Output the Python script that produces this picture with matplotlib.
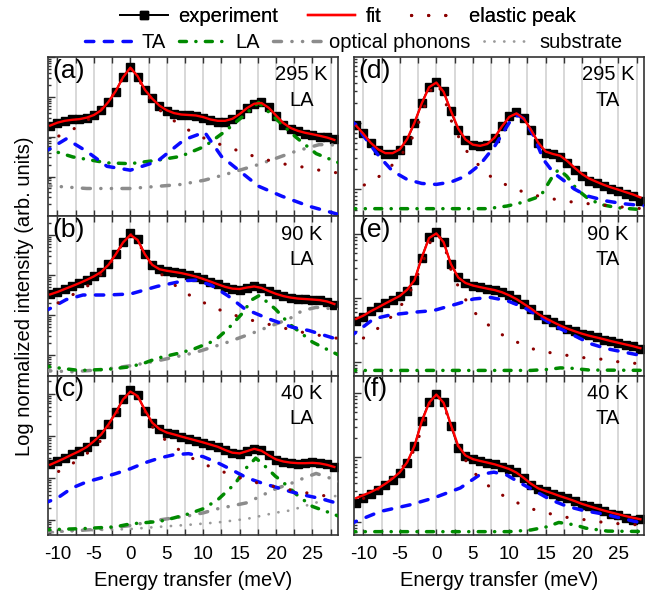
import numpy as np
import matplotlib
matplotlib.use("Agg")
import matplotlib.pyplot as plt
from matplotlib.lines import Line2D
from matplotlib.ticker import MultipleLocator, NullFormatter, LogLocator

plt.rcParams["font.family"] = ["Liberation Sans", "DejaVu Sans"]
plt.rcParams["axes.unicode_minus"] = False

# energy grid of the measured spectra (meV)
energy = np.arange(-11, 29)

# ---- (a) 295 K, LA ----
a_exp = [0.19, 0.22, 0.25, 0.27, 0.28, 0.30, 0.35, 0.47,
         0.76, 1.36, 3.2, 5.6, 3.2, 1.5, 0.93, 0.6,
         0.45, 0.38, 0.36, 0.34, 0.33, 0.3, 0.26, 0.24,
         0.24, 0.27, 0.37, 0.52, 0.68, 0.74, 0.55, 0.33,
         0.2, 0.16, 0.14, 0.12, 0.11, 0.1, 0.1, 0.085]
a_fit = [0.19, 0.225, 0.25, 0.265, 0.275, 0.3, 0.35, 0.46,
         0.75, 1.4, 3.1, 5.4, 3.3, 1.5, 0.9, 0.6,
         0.46, 0.39, 0.36, 0.35, 0.34, 0.31, 0.27, 0.25,
         0.25, 0.28, 0.37, 0.52, 0.67, 0.7, 0.53, 0.34,
         0.22, 0.165, 0.14, 0.125, 0.115, 0.105, 0.095, 0.083]
a_el = [(-12, 0.072), (-11, 0.084), (-8.8, 0.124), (-6.7, 0.2), (-4.5, 0.4), (-3, 0.75), (-2, 1.4),
        (-1, 3.0), (0, 5.3), (1, 3.1), (2, 1.4), (3, 0.75), (4, 0.47), (5.6, 0.28), (7.7, 0.156),
        (10, 0.094), (12.4, 0.063), (14.7, 0.045), (17, 0.032), (19.5, 0.024), (22, 0.019),
        (24.5, 0.0165), (27, 0.013), (29.5, 0.012)]
a_ta = [(-12, 0.039), (-8.8, 0.088), (-6, 0.043), (-3.2, 0.018), (0, 0.0144), (3.7, 0.024),
        (7.4, 0.084), (10.2, 0.13), (12.5, 0.032), (15.3, 0.0124), (17.6, 0.0057), (20.8, 0.0032),
        (24.5, 0.0018), (29.5, 0.001)]
a_la = [(-12, 0.055), (-11.1, 0.047), (-7.9, 0.031), (-3.2, 0.022), (0, 0.021), (3.7, 0.0256),
        (6.9, 0.032), (10.2, 0.057), (13, 0.136), (15.7, 0.355), (17.6, 0.72), (19.9, 0.29),
        (22.7, 0.098), (25.5, 0.0376), (29.5, 0.019)]
a_op = [(-12, 0.006), (-6, 0.005), (0, 0.005), (6.9, 0.0063), (10.2, 0.0081), (13, 0.0112),
        (17.6, 0.02), (22.7, 0.043), (25.9, 0.063), (27.5, 0.063), (29.5, 0.055)]

# ---- (b) 90 K, LA ----
b_exp = [0.338, 0.386, 0.45, 0.544, 0.634, 0.766, 0.927, 1.21,
         1.87, 3.32, 6.7, 11.0, 7.8, 3.32, 1.77, 1.41,
         1.28, 1.21, 1.12, 1.02, 0.91, 0.80, 0.684, 0.588,
         0.505, 0.45, 0.432, 0.476, 0.524, 0.486, 0.41, 0.338,
         0.296, 0.269, 0.254, 0.249, 0.244, 0.24, 0.218, 0.18]
b_fit = [0.33, 0.38, 0.45, 0.53, 0.63, 0.76, 0.93, 1.2,
         1.8, 3.3, 6.5, 10.0, 7.5, 3.3, 1.8, 1.4,
         1.28, 1.2, 1.12, 1.02, 0.92, 0.8, 0.69, 0.59,
         0.51, 0.46, 0.45, 0.49, 0.52, 0.48, 0.4, 0.34,
         0.3, 0.275, 0.26, 0.253, 0.246, 0.238, 0.22, 0.19]
b_el = [(-12, 0.13), (-10.6, 0.173), (-8.8, 0.264), (-6.9, 0.41), (-5.1, 0.66), (-3.5, 1.3),
        (-2, 3.0), (-1, 6.5), (0, 10.5), (1, 7.0), (2, 3.3), (3, 1.7), (3.8, 1.23), (5.6, 0.66),
        (7.4, 0.372), (9.4, 0.24), (11.3, 0.158), (13.4, 0.114), (15.6, 0.084), (17.7, 0.067),
        (19.8, 0.055), (21.9, 0.044), (24.1, 0.036), (26.2, 0.031), (28.2, 0.027), (29.5, 0.025)]
b_ta = [(-12, 0.12), (-11.1, 0.144), (-8.8, 0.245), (-6.5, 0.319), (-3.2, 0.319), (0, 0.338),
        (3.7, 0.524), (7.4, 0.724), (9, 0.75), (11.1, 0.56), (13.4, 0.305), (15.7, 0.144),
        (19, 0.081), (22.2, 0.0504), (24.5, 0.0416), (28.2, 0.0258), (29.5, 0.0245)]
b_la = [(-12, 0.0055), (-10, 0.0049), (-7, 0.0042), (-3, 0.0045), (0, 0.0052), (2, 0.0065),
        (3.7, 0.0085), (6.9, 0.0116), (8.8, 0.0146), (11.6, 0.0234), (13.4, 0.0457), (15.3, 0.108),
        (16.7, 0.244), (17.7, 0.31), (19.9, 0.143), (21.8, 0.061), (23.6, 0.034), (25, 0.0214),
        (27.3, 0.0132), (28.7, 0.01), (30, 0.008)]
b_op = [(-12, 0.0042), (-8, 0.0039), (-4, 0.0044), (0, 0.0055), (4, 0.0075), (8.8, 0.0116),
        (13, 0.0202), (17.1, 0.0378), (19.4, 0.0553), (21.8, 0.081), (23.6, 0.13), (25.5, 0.157),
        (28.2, 0.143), (30, 0.13)]

# ---- (c) 40 K, LA ----
c_exp = [0.213, 0.256, 0.308, 0.37, 0.445, 0.555, 0.773, 1.12,
         1.94, 3.69, 7.7, 12.2, 9.3, 4.05, 2.05, 1.47,
         1.22, 1.10, 0.98, 0.88, 0.787, 0.705, 0.63, 0.565,
         0.461, 0.391, 0.37, 0.445, 0.506, 0.47, 0.35, 0.27,
         0.242, 0.229, 0.221, 0.225, 0.242, 0.233, 0.213, 0.184]
c_fit = [0.21, 0.25, 0.3, 0.365, 0.44, 0.55, 0.76, 1.1,
         1.9, 3.6, 7.5, 11.5, 9.0, 4.2, 2.1, 1.48,
         1.22, 1.1, 0.98, 0.88, 0.79, 0.71, 0.63, 0.56,
         0.47, 0.405, 0.39, 0.44, 0.5, 0.45, 0.35, 0.28,
         0.25, 0.235, 0.228, 0.228, 0.232, 0.225, 0.208, 0.185]
c_el = [(-12, 0.10), (-10, 0.14), (-8, 0.22), (-6, 0.38), (-4, 0.8), (-2, 3.0), (-1, 7.0),
        (0, 12), (1, 8.5), (2, 3.8), (3, 1.7), (4, 1.05), (5.6, 0.64), (8, 0.33), (10.2, 0.213),
        (12.5, 0.147), (14.8, 0.105), (17.1, 0.080), (20, 0.062), (22.4, 0.051), (24.8, 0.043),
        (27.2, 0.037), (29.5, 0.033)]
c_ta = [(-12, 0.0247), (-10, 0.0338), (-8, 0.0587), (-6, 0.0818), (-4, 0.102), (-2, 0.129),
        (0, 0.168), (2, 0.233), (4, 0.302), (6, 0.363), (8, 0.384), (10, 0.325), (12, 0.233),
        (14, 0.156), (16, 0.102), (18, 0.0774), (20, 0.061), (22, 0.048), (24, 0.0392),
        (26, 0.0332), (28, 0.0266), (30, 0.023)]
c_la = [(-12, 0.0059), (-6, 0.0064), (-2, 0.007), (0, 0.0082), (4, 0.0094), (6, 0.0114),
        (8, 0.0142), (10, 0.0188), (12, 0.0308), (14.4, 0.075), (15.7, 0.161), (17.2, 0.3),
        (18, 0.233), (19.9, 0.112), (20.8, 0.085), (23.1, 0.037), (25, 0.0213), (27.8, 0.0142),
        (30, 0.01)]
c_op = [(-12, 0.0053), (-8, 0.0056), (-4, 0.0062), (0, 0.0075), (4, 0.0102), (8, 0.0128),
        (10, 0.015), (12, 0.0188), (14, 0.0221), (16, 0.0261), (18, 0.0385), (20, 0.0566),
        (22, 0.0746), (24, 0.104), (25.5, 0.13), (28, 0.093), (30, 0.067)]
c_sub = [(-12, 0.005), (-8, 0.0056), (-4, 0.0059), (0, 0.0062), (4, 0.007), (8, 0.0078),
         (12, 0.0089), (16, 0.0108), (20, 0.0152), (22, 0.0172), (24, 0.022), (26, 0.028),
         (28, 0.037), (30, 0.05)]

# ---- (d) 295 K, TA ----
d_exp = [0.933, 0.701, 0.498, 0.396, 0.345, 0.345, 0.387, 0.557,
         0.989, 1.97, 3.49, 4.14, 2.94, 1.48, 0.787, 0.545,
         0.47, 0.444, 0.47, 0.59, 0.881, 1.24, 1.43, 1.17,
         0.787, 0.498, 0.352, 0.345, 0.307, 0.25, 0.195, 0.158,
         0.136, 0.126, 0.112, 0.102, 0.0944, 0.0843, 0.0796, 0.067]
d_fit = [0.9, 0.68, 0.5, 0.4, 0.35, 0.35, 0.4, 0.57,
         1.0, 1.95, 3.4, 4.0, 2.9, 1.5, 0.82, 0.56,
         0.47, 0.45, 0.48, 0.6, 0.88, 1.22, 1.38, 1.15,
         0.78, 0.5, 0.37, 0.34, 0.32, 0.265, 0.21, 0.17,
         0.145, 0.13, 0.117, 0.107, 0.099, 0.091, 0.084, 0.076]
d_el = [(-12, 0.09), (-11, 0.102), (-8.8, 0.133), (-7, 0.182), (-5.2, 0.29), (-3.6, 0.5),
        (-2, 1.3), (-1, 2.8), (0, 4.0), (1, 2.6), (1.9, 1.17), (2.9, 0.662), (4, 0.396),
        (5.5, 0.25), (7.4, 0.158), (9.7, 0.115), (12, 0.091), (14.5, 0.077), (17, 0.069),
        (19.4, 0.063), (21.8, 0.06), (24.4, 0.056), (26.6, 0.053), (29, 0.051)]
d_ta = [(-12, 1.1), (-11, 0.93), (-10, 0.64), (-8.6, 0.40), (-7.7, 0.30), (-6, 0.188),
        (-4, 0.141), (-2, 0.123), (0, 0.119), (2, 0.129), (4, 0.158), (6, 0.236), (8, 0.444),
        (10, 1.0), (11.2, 1.3), (12, 1.15), (13.4, 0.625), (14.7, 0.28), (16.1, 0.177),
        (17.9, 0.126), (18.9, 0.102), (20.7, 0.08), (23.4, 0.067), (25.7, 0.061), (28, 0.0577),
        (30, 0.055)]
d_la = [(-12, 0.0515), (7, 0.0515), (9.7, 0.0564), (12, 0.0647), (14.3, 0.0795), (16, 0.16),
        (16.8, 0.2), (17.9, 0.158), (19.3, 0.1), (20.7, 0.075), (22.5, 0.0597), (24.8, 0.0533),
        (30, 0.048)]

# ---- (e) 90 K, TA ----
e_exp = [0.443, 0.499, 0.634, 0.714, 0.826, 0.942, 1.06, 1.30,
         1.9, 4.3, 9.0, 10.9, 7.6, 3.4, 2.1, 1.71,
         1.56, 1.47, 1.38, 1.33, 1.23, 1.11, 0.964, 0.805,
         0.673, 0.542, 0.47, 0.427, 0.37, 0.328, 0.298, 0.274,
         0.258, 0.243, 0.223, 0.208, 0.198, 0.184, 0.174, 0.156]
e_fit = [0.47, 0.53, 0.62, 0.71, 0.82, 0.94, 1.08, 1.35,
         1.9, 4.3, 8.7, 10.3, 7.5, 3.4, 2.1, 1.72,
         1.57, 1.48, 1.4, 1.33, 1.23, 1.1, 0.96, 0.81,
         0.68, 0.56, 0.48, 0.42, 0.37, 0.33, 0.3, 0.275,
         0.255, 0.24, 0.225, 0.21, 0.198, 0.186, 0.175, 0.163]
e_el = [(-12, 0.17), (-11, 0.2), (-9.3, 0.264), (-7.6, 0.361), (-5.9, 0.542), (-4.7, 0.805),
        (-3.5, 1.33), (-2, 3.2), (-1, 7.0), (0, 10.5), (1, 7.5), (2, 2.8), (2.6, 1.87),
        (4.6, 0.714), (6, 0.481), (7.8, 0.328), (9.7, 0.237), (11.8, 0.187), (13.8, 0.15),
        (15.9, 0.137), (18.1, 0.125), (20.1, 0.116), (22.3, 0.111), (24.5, 0.101), (26.6, 0.096),
        (29, 0.09)]
e_ta = [(-12, 0.24), (-11, 0.291), (-8.6, 0.47), (-6.3, 0.542), (-3.1, 0.597), (-0.4, 0.634),
        (2.8, 0.805), (5.1, 0.964), (7.4, 1.02), (9.7, 0.908), (12, 0.714), (14.3, 0.499),
        (16.6, 0.348), (18.9, 0.258), (21.2, 0.191), (23.4, 0.16), (26.2, 0.138), (28, 0.126),
        (30, 0.118)]
e_la = [(-12, 0.073), (13, 0.073), (15.5, 0.076), (17, 0.08), (18.5, 0.079), (21, 0.074),
        (30, 0.073)]

# ---- (f) 40 K, TA ----
f_exp = [0.196, 0.234, 0.274, 0.309, 0.379, 0.453, 0.575, 0.825,
         1.50, 3.70, 7.15, 9.64, 7.15, 3.09, 1.42, 1.05,
         0.931, 0.877, 0.825, 0.778, 0.715, 0.665, 0.59, 0.481,
         0.379, 0.324, 0.298, 0.274, 0.249, 0.234, 0.208, 0.184,
         0.174, 0.164, 0.145, 0.133, 0.129, 0.114, 0.107, 0.112]
f_fit = [0.234, 0.26, 0.29, 0.33, 0.39, 0.47, 0.59, 0.84,
         1.5, 3.6, 7.0, 9.4, 7.0, 3.2, 1.5, 1.07,
         0.94, 0.88, 0.83, 0.78, 0.72, 0.66, 0.58, 0.48,
         0.39, 0.33, 0.3, 0.275, 0.25, 0.23, 0.21, 0.19,
         0.175, 0.162, 0.15, 0.14, 0.131, 0.123, 0.116, 0.11]
f_el = [(-12, 0.17), (-11, 0.2), (-9.1, 0.264), (-7, 0.38), (-5, 0.62), (-3, 1.3), (-2, 2.8),
        (-1, 6.5), (0, 9.6), (1, 6.8), (2, 3.0), (3, 1.5), (4.4, 0.75), (5.7, 0.5), (7.6, 0.328),
        (9.5, 0.243), (11.5, 0.189), (13.5, 0.154), (15.7, 0.133), (17.8, 0.118), (19.9, 0.11),
        (22.1, 0.101), (24.3, 0.095), (26.3, 0.092), (29, 0.088)]
f_ta = [(-12, 0.09), (-11.1, 0.101), (-7.7, 0.145), (-3.6, 0.184), (-0.4, 0.234), (3.3, 0.336),
        (6, 0.542), (7.9, 0.59), (9.7, 0.53), (11.5, 0.402), (13.8, 0.29), (15.7, 0.22),
        (17.9, 0.175), (20.2, 0.15), (23, 0.132), (25.7, 0.112), (28, 0.097), (30, 0.09)]
f_la = [(-12, 0.0706), (10, 0.0706), (13, 0.075), (15.2, 0.084), (16.8, 0.098), (19, 0.09),
        (20.5, 0.08), (23.5, 0.072), (30, 0.0706)]

# y ranges (log10 limits)
ylims = {"a": (-3.0, 1.0), "b": (-2.506, 1.464), "c": (-2.35, 1.439),
         "d": (-1.403, 0.985), "e": (-1.219, 1.281), "f": (-1.203, 1.266)}

temps = {"a": "295 K", "b": "90 K", "c": "40 K", "d": "295 K", "e": "90 K", "f": "40 K"}
modes = {"a": "LA", "b": "LA", "c": "LA", "d": "TA", "e": "TA", "f": "TA"}

# styles
C_EL, C_TA, C_LA, C_OP, C_SUB = "#8b0000", "#0a0aff", "#008a00", "#8c8c8c", "#9a9a9a"
st_el = dict(color=C_EL, lw=2.3, ls=(0, (0.05, 5.3)), dash_capstyle="round")
st_ta = dict(color=C_TA, lw=2.5, ls=(0, (2.4, 3.0)), dash_capstyle="round")
st_la = dict(color=C_LA, lw=2.5, ls=(0, (2.0, 2.7, 0.05, 2.7)), dash_capstyle="round")
st_op = dict(color=C_OP, lw=2.5, ls=(0, (2.3, 3.0, 0.05, 3.0, 0.05, 3.0)), dash_capstyle="round")
st_sub = dict(color=C_SUB, lw=2.0, ls=(0, (0.05, 3.5)), dash_capstyle="round")
st_exp = dict(color="black", lw=1.3, marker="s", ms=5.8, mec="black", mfc="black")
st_fit = dict(color="#ff0000", lw=1.7)

W, H = 654, 597
fig = plt.figure(figsize=(W / 100, H / 100), dpi=100)

xl = [48 / W, 354 / W]
aw = 290 / W
top = 1 - 57 / H
ah = (478 / 3) / H

panels = [
    ("a", 0, 0, a_exp, a_fit, a_el, a_ta, a_la, a_op, None),
    ("b", 0, 1, b_exp, b_fit, b_el, b_ta, b_la, b_op, None),
    ("c", 0, 2, c_exp, c_fit, c_el, c_ta, c_la, c_op, c_sub),
    ("d", 1, 0, d_exp, d_fit, d_el, d_ta, d_la, None, None),
    ("e", 1, 1, e_exp, e_fit, e_el, e_ta, e_la, None, None),
    ("f", 1, 2, f_exp, f_fit, f_el, f_ta, f_la, None, None),
]


def comp(ax, pts, style):
    if pts is None:
        return
    e, v = zip(*pts)
    ax.plot(e, v, zorder=3, **style)


spine_c = "#333333"
for key, col, row, exp, fit, el, ta, la, op, sub in panels:
    ax = fig.add_axes([xl[col], top - (row + 1) * ah, aw, ah])
    ax.set_yscale("log")
    ax.set_xlim(-11.3, 28.5)
    lo, hi = ylims[key]
    ax.set_ylim(10 ** lo, 10 ** hi)

    ax.plot(energy, exp, zorder=2, **st_exp)
    comp(ax, sub, st_sub)
    comp(ax, op, st_op)
    comp(ax, la, st_la)
    comp(ax, ta, st_ta)
    comp(ax, el, st_el)
    ax.plot(energy, fit, zorder=4, **st_fit)

    ax.xaxis.set_major_locator(MultipleLocator(5))
    ax.xaxis.set_minor_locator(MultipleLocator(2.5))
    ax.yaxis.set_major_locator(LogLocator(base=10, numticks=10))
    ax.yaxis.set_minor_locator(LogLocator(base=10, subs=np.arange(2, 10), numticks=20))
    ax.yaxis.set_major_formatter(NullFormatter())
    ax.yaxis.set_minor_formatter(NullFormatter())
    ax.grid(True, axis="x", which="both", color="#d2d2d2", lw=1.2, zorder=0)
    ax.set_axisbelow(True)

    ax.tick_params(axis="both", which="both", direction="in", top=True, right=False,
                   color=spine_c, width=1.0)
    ax.tick_params(axis="x", which="both", length=4, labelsize=13.5, pad=8)
    ax.tick_params(axis="y", which="major", length=5)
    ax.tick_params(axis="y", which="minor", length=2.5)
    if row < 2:
        ax.tick_params(axis="x", labelbottom=False)
    for s in ax.spines.values():
        s.set_color(spine_c)
        s.set_linewidth(1.2)

    ax.text(0.072, 0.914, "(%s)" % key, transform=ax.transAxes, fontsize=19,
            ha="center", va="center")
    ax.text(0.875, 0.8875, temps[key], transform=ax.transAxes, fontsize=14.5,
            ha="center", va="center")
    ax.text(0.875, 0.73, modes[key], transform=ax.transAxes, fontsize=14.5,
            ha="center", va="center")

fig.text(25 / W, 1 - 296 / H, "Log normalized intensity (arb. units)", rotation=90,
         fontsize=14.5, ha="center", va="center")
fig.text(193 / W, 1 - 580 / H, "Energy transfer (meV)", fontsize=14.5, ha="center", va="center")
fig.text(499 / W, 1 - 580 / H, "Energy transfer (meV)", fontsize=14.5, ha="center", va="center")

# legends: two rows above the panels
h_exp = Line2D([], [], **st_exp)
h_fit = Line2D([], [], **st_fit)
h_el = Line2D([], [], **st_el)
h_ta = Line2D([], [], **st_ta)
h_la = Line2D([], [], **st_la)
h_op = Line2D([], [], **st_op)
h_sub = Line2D([], [], **st_sub)

leg1 = fig.legend([h_exp, h_fit, h_el], ["experiment", "fit", "elastic peak"],
                  loc="center", bbox_to_anchor=(348 / W, 1 - 17 / H), ncol=3, frameon=False,
                  fontsize=14.5, handlelength=2.35, handletextpad=0.5, columnspacing=1.5,
                  numpoints=1, borderpad=0, borderaxespad=0)
leg2 = fig.legend([h_ta, h_la, h_op, h_sub], ["TA", "LA", "optical phonons", "substrate"],
                  loc="center", bbox_to_anchor=(354 / W, 1 - 43 / H), ncol=4, frameon=False,
                  fontsize=14.5, handlelength=2.4, handletextpad=0.4, columnspacing=0.65,
                  borderpad=0, borderaxespad=0)
fig.add_artist(leg1)

fig.savefig("out.png", dpi=100)
